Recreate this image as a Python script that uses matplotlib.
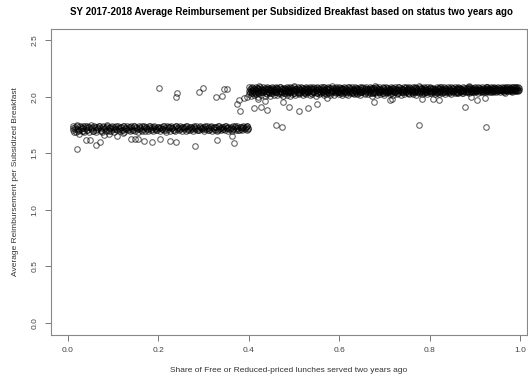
import matplotlib
matplotlib.use('Agg')
import matplotlib.pyplot as plt

plt.rcParams['font.family'] = ['Liberation Sans', 'DejaVu Sans']

# Low band (share < 0.4)
low_x = [0.010,0.012,0.015,0.017,0.019,0.021,0.023,0.026,0.028,0.030,
         0.032,0.034,0.036,0.039,0.041,0.043,0.045,0.047,0.050,0.052,
         0.054,0.056,0.058,0.061,0.063,0.065,0.067,0.069,0.072,0.074,
         0.076,0.078,0.080,0.083,0.085,0.087,0.089,0.091,0.094,0.096,
         0.098,0.100,0.102,0.105,0.107,0.109,0.111,0.113,0.116,0.118,
         0.120,0.122,0.124,0.127,0.129,0.131,0.133,0.135,0.138,0.140,
         0.142,0.144,0.146,0.149,0.151,0.153,0.155,0.157,0.160,0.162,
         0.164,0.166,0.168,0.171,0.173,0.175,0.177,0.179,0.182,0.184,
         0.186,0.188,0.190,0.193,0.195,0.197,0.199,0.201,0.204,0.206,
         0.208,0.210,0.212,0.215,0.217,0.219,0.221,0.223,0.226,0.228,
         0.230,0.232,0.234,0.237,0.239,0.241,0.243,0.245,0.248,0.250,
         0.252,0.254,0.256,0.259,0.261,0.263,0.265,0.267,0.270,0.272,
         0.274,0.276,0.278,0.281,0.283,0.285,0.287,0.289,0.292,0.294,
         0.296,0.298,0.300,0.303,0.305,0.307,0.309,0.311,0.314,0.316,
         0.318,0.320,0.322,0.325,0.327,0.329,0.331,0.333,0.336,0.338,
         0.340,0.342,0.344,0.347,0.349,0.351,0.353,0.355,0.358,0.360,
         0.362,0.364,0.366,0.369,0.371,0.373,0.375,0.377,0.380,0.382,
         0.384,0.386,0.388,0.391,0.393,0.395,0.397,0.399]
low_y = [1.742,1.705,1.731,1.688,1.748,1.716,1.693,1.737,1.710,1.726,
         1.699,1.745,1.684,1.722,1.739,1.702,1.733,1.691,1.747,1.714,
         1.728,1.696,1.741,1.708,1.686,1.735,1.719,1.744,1.700,1.724,
         1.690,1.738,1.712,1.729,1.697,1.746,1.706,1.721,1.736,1.693,
         1.740,1.713,1.687,1.732,1.718,1.702,1.743,1.725,1.698,1.734,
         1.709,1.739,1.692,1.727,1.716,1.745,1.703,1.730,1.695,1.737,
         1.720,1.707,1.741,1.699,1.733,1.714,1.689,1.738,1.724,1.704,
         1.742,1.711,1.729,1.696,1.735,1.718,1.701,1.740,1.722,1.708,
         1.731,1.694,1.744,1.715,1.727,1.703,1.736,1.719,1.698,1.734,
         1.712,1.739,1.705,1.726,1.692,1.741,1.717,1.730,1.700,1.737,
         1.723,1.709,1.733,1.696,1.742,1.714,1.728,1.704,1.738,1.720,
         1.701,1.735,1.716,1.729,1.697,1.740,1.711,1.725,1.706,1.736,
         1.719,1.699,1.732,1.713,1.743,1.707,1.727,1.702,1.737,1.721,
         1.710,1.734,1.695,1.728,1.716,1.741,1.704,1.730,1.712,1.738,
         1.700,1.724,1.735,1.709,1.731,1.697,1.739,1.718,1.726,1.703,
         1.736,1.714,1.729,1.706,1.742,1.720,1.698,1.733,1.711,1.727,
         1.701,1.738,1.716,1.730,1.705,1.740,1.722,1.708,1.734,1.713,
         1.725,1.702,1.737,1.719,1.731,1.707,1.739,1.715]
low_x2 = [0.011,0.016,0.020,0.024,0.029,0.033,0.037,0.042,0.046,0.051,
          0.055,0.059,0.064,0.068,0.072,0.077,0.081,0.086,0.090,0.094,
          0.099,0.103,0.107,0.112,0.116,0.121,0.125,0.129,0.134,0.138,
          0.142,0.147,0.151,0.156,0.160,0.164,0.169,0.173,0.177,0.182,
          0.186,0.191,0.195,0.199,0.204,0.208,0.212,0.217,0.221,0.226,
          0.230,0.234,0.239,0.243,0.247,0.252,0.256,0.261,0.265,0.269,
          0.274,0.278,0.282,0.287,0.291,0.296,0.300,0.304,0.309,0.313,
          0.317,0.322,0.326,0.331,0.335,0.339,0.344,0.348,0.352,0.357,
          0.361,0.366,0.370,0.374,0.379,0.383,0.387,0.392,0.396,0.398]
low_y2 = [1.727,1.712,1.740,1.703,1.733,1.719,1.745,1.708,1.736,1.722,
          1.698,1.731,1.715,1.742,1.706,1.729,1.720,1.738,1.701,1.725,
          1.734,1.711,1.743,1.717,1.730,1.704,1.739,1.723,1.713,1.735,
          1.709,1.741,1.726,1.716,1.732,1.700,1.737,1.721,1.710,1.744,
          1.718,1.730,1.705,1.736,1.724,1.714,1.740,1.707,1.728,1.733,
          1.719,1.702,1.738,1.726,1.711,1.735,1.721,1.742,1.708,1.731,
          1.716,1.739,1.724,1.704,1.734,1.720,1.713,1.741,1.727,1.709,
          1.736,1.718,1.730,1.706,1.743,1.722,1.714,1.737,1.725,1.710,
          1.732,1.717,1.740,1.723,1.707,1.735,1.728,1.715,1.738,1.720]

# High band (share >= 0.4)
high_x = [0.400,0.404,0.407,0.411,0.416,0.420,0.423,0.428,0.432,0.435,
          0.440,0.444,0.447,0.451,0.456,0.460,0.463,0.468,0.472,0.475,
          0.480,0.484,0.487,0.491,0.496,0.500,0.503,0.508,0.512,0.515,
          0.520,0.524,0.527,0.531,0.536,0.540,0.543,0.548,0.552,0.555,
          0.560,0.564,0.567,0.571,0.576,0.580,0.583,0.588,0.592,0.595,
          0.600,0.604,0.607,0.611,0.616,0.620,0.623,0.628,0.632,0.635,
          0.640,0.644,0.647,0.651,0.656,0.660,0.663,0.668,0.672,0.675,
          0.680,0.684,0.687,0.691,0.696,0.700,0.703,0.708,0.712,0.715,
          0.720,0.724,0.727,0.731,0.736,0.740,0.743,0.748,0.752,0.755,
          0.760,0.764,0.767,0.771,0.776,0.780,0.783,0.788,0.792,0.795,
          0.800,0.804,0.807,0.811,0.816,0.820,0.823,0.828,0.832,0.835,
          0.840,0.844,0.847,0.851,0.856,0.860,0.863,0.868,0.872,0.875,
          0.880,0.884,0.887,0.891,0.896,0.900,0.903,0.908,0.912,0.915,
          0.920,0.924,0.927,0.931,0.936,0.940,0.943,0.948,0.952,0.955,
          0.960,0.964,0.967,0.971,0.976,0.980,0.983,0.988,0.992,0.995]
high_y_top = [2.082,2.074,2.089,2.071,2.085,2.078,2.091,2.069,2.083,2.076,
              2.088,2.072,2.080,2.086,2.070,2.084,2.077,2.090,2.073,2.081,
              2.075,2.087,2.069,2.083,2.079,2.091,2.071,2.085,2.074,2.088,
              2.080,2.072,2.086,2.077,2.090,2.070,2.084,2.076,2.089,2.073,
              2.082,2.087,2.071,2.079,2.085,2.074,2.091,2.078,2.083,2.069,
              2.088,2.075,2.081,2.086,2.072,2.090,2.077,2.084,2.070,2.087,
              2.079,2.073,2.089,2.082,2.076,2.085,2.071,2.088,2.080,2.074,
              2.091,2.078,2.083,2.069,2.086,2.075,2.089,2.081,2.072,2.087,
              2.077,2.084,2.070,2.090,2.079,2.073,2.085,2.082,2.076,2.088,
              2.071,2.083,2.086,2.074,2.091,2.078,2.080,2.087,2.072,2.084,
              2.089,2.075,2.081,2.070,2.086,2.077,2.090,2.073,2.083,2.079,
              2.085,2.071,2.088,2.076,2.082,2.074,2.089,2.080,2.072,2.087,
              2.078,2.084,2.091,2.075,2.081,2.086,2.073,2.088,2.079,2.083,
              2.076,2.090,2.082,2.074,2.087,2.080,2.085,2.077,2.089,2.081,
              2.084,2.078,2.088,2.082,2.086,2.079,2.090,2.083,2.087,2.085]
high_y_mid = [2.055,2.047,2.063,2.041,2.058,2.050,2.067,2.044,2.060,2.053,
              2.065,2.043,2.057,2.049,2.062,2.046,2.068,2.052,2.040,2.059,
              2.048,2.064,2.054,2.042,2.061,2.051,2.066,2.045,2.056,2.063,
              2.050,2.041,2.059,2.047,2.067,2.053,2.044,2.061,2.056,2.048,
              2.064,2.042,2.058,2.052,2.069,2.046,2.055,2.062,2.049,2.060,
              2.043,2.057,2.066,2.051,2.045,2.063,2.054,2.040,2.059,2.048,
              2.065,2.053,2.044,2.061,2.056,2.047,2.068,2.050,2.058,2.042,
              2.062,2.055,2.046,2.064,2.052,2.060,2.041,2.057,2.049,2.066,
              2.054,2.043,2.061,2.058,2.047,2.063,2.051,2.045,2.067,2.056,
              2.048,2.062,2.053,2.059,2.044,2.065,2.050,2.057,2.042,2.061,
              2.055,2.064,2.049,2.058,2.046,2.062,2.053,2.067,2.051,2.060,
              2.047,2.056,2.063,2.050,2.059,2.044,2.066,2.054,2.061,2.048,
              2.058,2.052,2.065,2.055,2.062,2.057,2.050,2.064,2.059,2.053,
              2.061,2.056,2.066,2.058,2.063,2.055,2.067,2.060,2.057,2.064,
              2.062,2.059,2.066,2.061,2.065,2.063,2.068,2.062,2.066,2.064]
high_y_bot = [2.021,2.008,2.035,2.015,2.027,2.002,2.031,2.018,2.040,2.011,
              2.025,2.036,2.006,2.029,2.017,2.038,2.013,2.032,2.022,2.004,
              2.034,2.019,2.041,2.009,2.027,2.037,2.014,2.030,2.024,2.039,
              2.012,2.033,2.020,2.043,2.016,2.028,2.038,2.010,2.035,2.023,
              2.031,2.041,2.015,2.026,2.036,2.019,2.044,2.012,2.029,2.038,
              2.022,2.034,2.017,2.040,2.027,2.013,2.037,2.030,2.020,2.042,
              2.025,2.035,2.016,2.039,2.028,2.044,2.021,2.033,2.011,2.036,
              2.030,2.018,2.041,2.026,2.037,2.014,2.032,2.043,2.023,2.035,
              2.019,2.040,2.028,2.034,2.016,2.038,2.024,2.042,2.031,2.021,
              2.036,2.027,2.044,2.018,2.033,2.039,2.025,2.030,2.045,2.022,
              2.037,2.029,2.041,2.026,2.035,2.020,2.043,2.032,2.038,2.027,
              2.040,2.034,2.024,2.044,2.031,2.037,2.029,2.042,2.036,2.033,
              2.046,2.039,2.035,2.043,2.041,2.038,2.047,2.036,2.044,2.040,
              2.045,2.042,2.048,2.039,2.046,2.043,2.049,2.044,2.047,2.045,
              2.050,2.046,2.048,2.051,2.047,2.049,2.052,2.048,2.050,2.049]
high_x2 = [0.402,0.406,0.409,0.413,0.418,0.421,0.425,0.430,0.433,0.437,
           0.442,0.446,0.449,0.453,0.458,0.461,0.465,0.470,0.473,0.477,
           0.482,0.486,0.489,0.493,0.498,0.501,0.505,0.510,0.513,0.517,
           0.522,0.526,0.529,0.533,0.538,0.541,0.545,0.550,0.553,0.557,
           0.562,0.566,0.569,0.573,0.578,0.581,0.585,0.590,0.593,0.597,
           0.602,0.606,0.609,0.613,0.618,0.621,0.625,0.630,0.633,0.637,
           0.642,0.646,0.649,0.653,0.658,0.661,0.665,0.670,0.673,0.677,
           0.682,0.686,0.689,0.693,0.698,0.701,0.705,0.710,0.713,0.717,
           0.722,0.726,0.729,0.733,0.738,0.741,0.745,0.750,0.753,0.757,
           0.762,0.766,0.769,0.773,0.778,0.781,0.785,0.790,0.793,0.797,
           0.802,0.806,0.809,0.813,0.818,0.821,0.825,0.830,0.833,0.837,
           0.842,0.846,0.849,0.853,0.858,0.861,0.865,0.870,0.873,0.877,
           0.882,0.886,0.889,0.893,0.898,0.901,0.905,0.910,0.913,0.917,
           0.922,0.926,0.929,0.933,0.938,0.941,0.945,0.950,0.953,0.957,
           0.962,0.966,0.969,0.973,0.978,0.981,0.985,0.990,0.993,0.997]
high_y_a = [2.071,2.064,2.079,2.061,2.075,2.068,2.083,2.062,2.073,2.066,
            2.080,2.063,2.070,2.077,2.060,2.074,2.067,2.082,2.065,2.072,
            2.069,2.078,2.061,2.076,2.064,2.084,2.068,2.073,2.062,2.079,
            2.066,2.075,2.070,2.063,2.081,2.067,2.074,2.060,2.078,2.065,
            2.072,2.083,2.064,2.069,2.077,2.061,2.080,2.068,2.074,2.063,
            2.079,2.066,2.071,2.076,2.062,2.082,2.067,2.073,2.060,2.078,
            2.070,2.064,2.081,2.075,2.065,2.072,2.062,2.079,2.068,2.074,
            2.083,2.066,2.071,2.061,2.077,2.064,2.080,2.069,2.063,2.076,
            2.067,2.073,2.060,2.082,2.070,2.065,2.075,2.072,2.062,2.079,
            2.064,2.074,2.078,2.066,2.084,2.069,2.071,2.077,2.063,2.073,
            2.080,2.065,2.070,2.061,2.076,2.068,2.082,2.064,2.072,2.067,
            2.075,2.062,2.079,2.066,2.071,2.065,2.081,2.069,2.063,2.077,
            2.068,2.074,2.083,2.066,2.072,2.078,2.064,2.080,2.070,2.073,
            2.067,2.082,2.071,2.065,2.076,2.069,2.074,2.068,2.081,2.072,
            2.075,2.070,2.079,2.073,2.077,2.071,2.082,2.074,2.078,2.076]
high_y_b = [2.042,2.033,2.051,2.037,2.046,2.030,2.054,2.039,2.048,2.035,
            2.044,2.056,2.031,2.049,2.038,2.053,2.034,2.047,2.041,2.032,
            2.052,2.036,2.045,2.040,2.057,2.033,2.050,2.043,2.037,2.055,
            2.031,2.048,2.039,2.054,2.035,2.046,2.051,2.032,2.044,2.040,
            2.053,2.036,2.049,2.042,2.057,2.034,2.047,2.038,2.052,2.041,
            2.045,2.055,2.033,2.050,2.039,2.043,2.056,2.037,2.048,2.035,
            2.051,2.040,2.046,2.054,2.032,2.049,2.042,2.057,2.036,2.045,
            2.038,2.053,2.044,2.047,2.034,2.052,2.041,2.055,2.039,2.048,
            2.043,2.050,2.036,2.054,2.045,2.040,2.056,2.047,2.037,2.051,
            2.046,2.042,2.053,2.038,2.049,2.055,2.044,2.048,2.040,2.052,
            2.047,2.043,2.054,2.041,2.050,2.045,2.057,2.039,2.051,2.046,
            2.049,2.044,2.055,2.048,2.052,2.042,2.056,2.047,2.053,2.050,
            2.054,2.049,2.056,2.051,2.055,2.050,2.057,2.052,2.056,2.053,
            2.055,2.052,2.058,2.054,2.057,2.053,2.058,2.055,2.057,2.056,
            2.058,2.056,2.059,2.057,2.060,2.058,2.061,2.059,2.060,2.058]

# Scattered schools away from the two bands
out_x = [0.201,0.239,0.241,0.290,0.299,0.327,0.341,0.345,0.352,
         0.374,0.378,0.381,0.389,0.396,0.412,0.427,0.440,0.420,0.436,
         0.476,0.489,0.511,0.531,0.551,0.573,0.460,0.473,0.677,0.712,
         0.717,0.776,0.783,0.808,0.821,0.878,0.892,0.905,0.923,0.924,
         0.967,0.982,
         0.020,0.040,0.049,0.062,0.071,0.080,0.108,0.139,0.148,0.155,
         0.168,0.186,0.204,0.226,0.239,0.281,0.330,0.363,0.367,
         0.014,0.024,0.033,0.090,0.121]
out_y = [2.075,2.00,2.03,2.04,2.08,2.00,2.01,2.07,2.07,
         1.94,1.97,1.87,1.99,2.00,1.90,1.91,1.88,1.98,1.96,
         1.95,1.91,1.87,1.90,1.94,1.99,1.75,1.73,1.95,1.97,
         1.98,1.75,1.98,1.98,1.97,1.91,2.00,1.97,1.99,1.73,
         2.03,2.04,
         1.54,1.62,1.62,1.57,1.60,1.66,1.65,1.63,1.63,1.63,
         1.61,1.60,1.63,1.61,1.60,1.56,1.62,1.65,1.59,
         1.69,1.67,1.70,1.67,1.68]

fig = plt.figure(figsize=(5.28, 3.78), dpi=100)
ax = fig.add_axes([51/528, 43/378, 476/528, 306/378])

pt_style = dict(marker='o', linestyle='none', markersize=4.0,
                markerfacecolor='none', markeredgecolor='black',
                markeredgewidth=0.8, alpha=0.6)
ax.plot(low_x, low_y, **pt_style)
ax.plot(low_x2, low_y2, **pt_style)
for ys in [high_y_top, high_y_mid, high_y_bot]:
    ax.plot(high_x, ys, **pt_style)
for ys in [high_y_a, high_y_b]:
    ax.plot(high_x2, ys, **pt_style)
ax.plot(out_x, out_y, **pt_style)

ax.set_xlim(-0.0376, 1.0155)
ax.set_ylim(-0.11, 2.60)
ax.set_xticks([0.0, 0.2, 0.4, 0.6, 0.8, 1.0])
ax.set_yticks([0.0, 0.5, 1.0, 1.5, 2.0, 2.5])
ax.set_xticklabels(['0.0', '0.2', '0.4', '0.6', '0.8', '1.0'])
ax.set_yticklabels(['0.0', '0.5', '1.0', '1.5', '2.0', '2.5'],
                   rotation=90, va='center')
ax.tick_params(direction='out', length=4, width=0.7, color='#777777',
               labelsize=6, labelcolor='#444444', pad=5)
for sp in ax.spines.values():
    sp.set_color('#888888')
    sp.set_linewidth(0.8)

ax.set_xlabel('Share of Free or Reduced-priced lunches served two years ago',
              fontsize=6, color='#333333', labelpad=9)
ax.set_ylabel('Average Reimbursement per Subsidized Breakfast',
              fontsize=6, color='#333333', labelpad=9)
fig.text(0.552, 0.968,
         'SY 2017-2018 Average Reimbursement per Subsidized Breakfast based on status two years ago',
         ha='center', va='center', fontsize=7, fontweight='bold')

fig.savefig('out.png', dpi=100)
